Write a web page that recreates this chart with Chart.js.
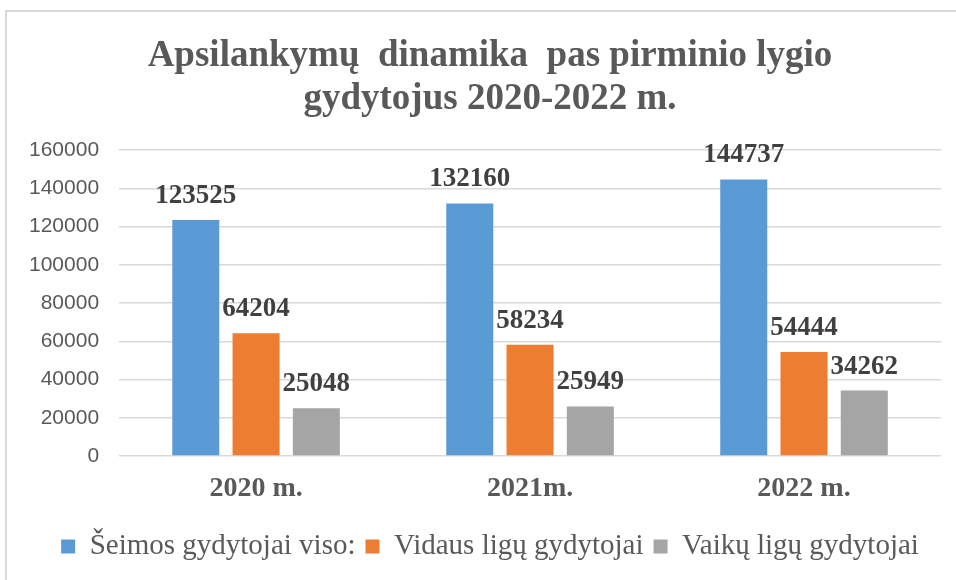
<!DOCTYPE html>
<html>
<head>
<meta charset="utf-8">
<script src="https://cdn.jsdelivr.net/npm/chart.js@4/dist/chart.umd.min.js"></script>
<style>
  html, body { margin: 0; padding: 0; background: #fff; overflow: hidden; }
  #frame { position: absolute; left: 5px; top: 10px; width: 1200px; height: 800px; border: 2px solid #d9d9d9; }
  #wrap { position: absolute; left: 0; top: 0; width: 956px; height: 580px; }
</style>
</head>
<body>
<div id="frame"></div>
<div id="wrap"><canvas id="visitsChart" width="956" height="580"></canvas></div>
<script>
const years = ['2020 m.', '2021m.', '2022 m.'];
const seimos = [123525, 132160, 144737];
const vidaus = [64204, 58234, 54444];
const vaiku = [25048, 25949, 34262];
const seriesNames = ['Šeimos gydytojai viso:', 'Vidaus ligų gydytojai', 'Vaikų ligų gydytojai'];
const titleLines = ['Apsilankymų  dinamika  pas pirminio lygio', 'gydytojus 2020-2022 m.'];

const serif = "'Liberation Serif', 'Times New Roman', serif";

// draws the value above each bar
const valueLabels = {
  id: 'valueLabels',
  afterDatasetsDraw(chart) {
    const ctx = chart.ctx;
    ctx.save();
    ctx.font = 'bold 27px ' + serif;
    ctx.fillStyle = '#404040';
    ctx.textAlign = 'center';
    ctx.textBaseline = 'alphabetic';
    chart.data.datasets.forEach((ds, i) => {
      chart.getDatasetMeta(i).data.forEach((bar, j) => {
        ctx.fillText(String(ds.data[j]), bar.x, bar.y - 17);
      });
    });
    ctx.restore();
  }
};

// title and legend are centred a bit right of the canvas middle in the original
const shiftBlocks = {
  id: 'shiftBlocks',
  afterLayout(chart) {
    if (chart.titleBlock) chart.titleBlock.left += 30;
    if (chart.legend) chart.legend.left += 30;
  }
};

const ctx = document.getElementById('visitsChart').getContext('2d');
new Chart(ctx, {
  type: 'bar',
  data: {
    labels: years,
    datasets: [
      { label: seriesNames[0], data: seimos, backgroundColor: '#5B9BD5' },
      { label: seriesNames[1], data: vidaus, backgroundColor: '#ED7D31' },
      { label: seriesNames[2], data: vaiku, backgroundColor: '#A5A5A5' }
    ]
  },
  options: {
    responsive: false,
    animation: false,
    categoryPercentage: 0.66,
    barPercentage: 0.78,
    layout: { padding: { left: 9, right: 15, top: 0, bottom: 9 } },
    plugins: {
      title: {
        display: true,
        text: titleLines,
        color: '#595959',
        font: { family: serif, size: 37, weight: 'bold', lineHeight: 1.165 },
        padding: { top: 35, bottom: 29 }
      },
      legend: {
        position: 'bottom',
        labels: {
          boxWidth: 14,
          boxHeight: 14,
          padding: 10,
          color: '#595959',
          font: { family: serif, size: 29 }
        }
      },
      tooltip: { enabled: false }
    },
    scales: {
      x: {
        grid: { display: false, drawTicks: false },
        border: { display: false },
        ticks: {
          padding: 17,
          color: '#595959',
          font: { family: serif, size: 28, weight: 'bold', lineHeight: 1.14 }
        }
      },
      y: {
        min: 0,
        max: 160000,
        grid: { color: '#d9d9d9', lineWidth: 1.5, drawTicks: false },
        border: { display: false },
        ticks: {
          stepSize: 20000,
          padding: 20,
          color: '#595959',
          font: { family: "'Liberation Sans', Arial, sans-serif", size: 21 },
          callback: (v) => String(v)
        }
      }
    }
  },
  plugins: [valueLabels, shiftBlocks]
});
</script>
</body>
</html>
